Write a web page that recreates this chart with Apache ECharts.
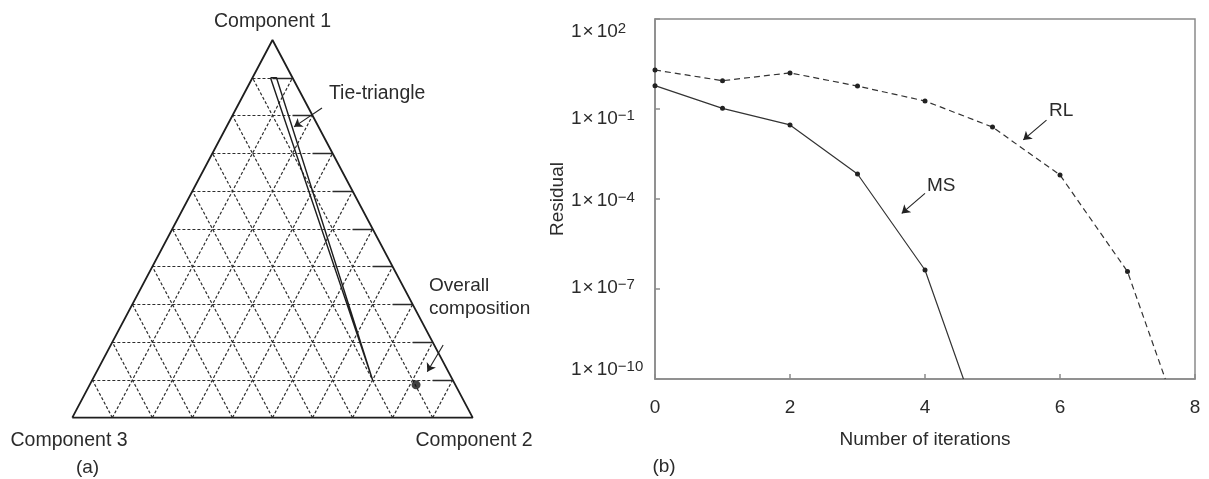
<!DOCTYPE html>
<html><head><meta charset="utf-8">
<script src="https://cdn.jsdelivr.net/npm/echarts@6/dist/echarts.min.js"></script>
<style>html,body{margin:0;padding:0;background:#fff}#c{width:1209px;height:479px}</style>
</head><body><div id="c"></div>
<script>
// ---------- Panel (b): residual vs number of iterations ----------
const iterations = [0, 1, 2, 3, 4, 5, 6, 7];
const residualRL = [2.0, 0.88, 1.6, 0.58, 0.185, 0.025, 6.3e-4, 3.8e-7];
const residualMS = [0.6, 0.105, 0.0295, 6.8e-4, 4.3e-7];
const tailRL = [7.56, 1e-10];   // where the RL curve leaves the plot
const tailMS = [4.57, 1e-10];   // where the MS curve leaves the plot
const xTickValues = [0, 2, 4, 6, 8];
const yTickExponents = [2, -1, -4, -7, -10];
const arrowRL = [[5.80, Math.pow(10, -1.37)], [5.456, Math.pow(10, -2.03)]];
const arrowMS = [[4.0, Math.pow(10, -3.81)], [3.655, Math.pow(10, -4.48)]];

// ---------- Panel (a): ternary diagram, compositions [c1, c2] (c3 = 1-c1-c2) ----------
const gridFractions = [0.1, 0.2, 0.3, 0.4, 0.5, 0.6, 0.7, 0.8, 0.9];
const tieTriangle = [[0.9, 0.045], [0.9, 0.06], [0.1, 0.70]];
const overallComposition = [0.087, 0.815];
const arrowTie = [[0.820, 0.2136], [0.770, 0.1689]];
const arrowOverall = [[0.1925, 0.830], [0.1218, 0.8257]];
const vertexLabels = ['Component 1', 'Component 2', 'Component 3'];

// ternary (c1,c2) -> plot coordinates in unit grid
function tern(c1, c2) { return [c2 + c1 / 2, c1]; }

const FONT = 'Liberation Sans, Arial, Helvetica, sans-serif';
const TXT = '#2b2b2b';

// grid line segments
const dashedSegs = [], solidSegs = [];
gridFractions.forEach(f => {
  // c1 = f (horizontal)
  const a = tern(f, 0), b = tern(f, 1 - f);
  const mid = [b[0] - 0.05, f];
  dashedSegs.push({coords: [a, mid]});
  solidSegs.push({coords: [mid, b]});
  // c2 = f
  dashedSegs.push({coords: [tern(0, f), tern(1 - f, f)]});
  // c3 = f
  dashedSegs.push({coords: [tern(0, 1 - f), tern(1 - f, 0)]});
});

const outline = [tern(0, 0), tern(0, 1), tern(1, 0), tern(0, 0)];
const tiePoly = tieTriangle.concat([tieTriangle[0]]).map(p => tern(p[0], p[1]));

// y label fine offsets (layout only)
const yLabelShift = {'2': 13, '-1': 9.5, '-4': 2, '-7': -1.5, '-10': -9.5};
const rich = {};
function pad(d) { return d >= 0 ? [2 * d, 0, 0, 0] : [0, 0, -2 * d, 0]; }
yTickExponents.forEach((e, i) => {
  const d = yLabelShift[String(e)];
  const pm = pad(d), ps = pad(d - 3);
  rich['m' + i] = {fontSize: 19, fontFamily: FONT, color: TXT, padding: pm, verticalAlign: 'middle'};
  rich['x' + i] = {fontSize: 19, fontFamily: FONT, color: TXT, padding: [pm[0], 3, pm[2], 1], verticalAlign: 'middle'};
  rich['s' + i] = {fontSize: 15, fontFamily: FONT, color: TXT, padding: ps, verticalAlign: 'middle'};
});

const chart = echarts.init(document.getElementById('c'), null, {renderer: 'canvas'});
const GRAY = '#8a8a8a';
chart.setOption({
  animation: false,
  backgroundColor: '#fff',
  textStyle: {fontFamily: FONT},
  grid: [
    {left: 72.3, top: 40, width: 400.4, height: 377.7, show: false, outerBoundsMode: 'none'},
    {left: 655, top: 19, width: 540, height: 360, show: true, borderColor: GRAY, borderWidth: 1.5, backgroundColor: 'transparent', outerBoundsMode: 'none'}
  ],
  xAxis: [
    {gridIndex: 0, type: 'value', min: 0, max: 1, show: false},
    {gridIndex: 1, type: 'value', min: 0, max: 8, interval: 2,
     axisLine: {show: true, onZero: false, lineStyle: {color: GRAY, width: 1.5}},
     axisTick: {show: true, inside: true, length: 5, lineStyle: {color: GRAY, width: 1.5}},
     axisLabel: {fontSize: 19, color: TXT, margin: 19, fontFamily: FONT,
                 formatter: v => xTickValues.indexOf(v) >= 0 ? String(v) : ''},
     splitLine: {show: false},
     name: 'Number of iterations', nameLocation: 'middle', nameGap: 51,
     nameTextStyle: {fontSize: 19, color: TXT, fontFamily: FONT}}
  ],
  yAxis: [
    {gridIndex: 0, type: 'value', min: 0, max: 1, show: false},
    {gridIndex: 1, type: 'value', min: -10, max: 2, interval: 3,
     axisLine: {show: true, onZero: false, lineStyle: {color: GRAY, width: 1.5}},
     axisTick: {show: true, inside: true, length: 5, lineStyle: {color: GRAY, width: 1.5}},
     axisLabel: {align: 'left', margin: 84, rich: rich,
       formatter: v => {
         const e = Math.round(v);
         const i = yTickExponents.indexOf(e);
         if (i < 0) return '';
         const es = e < 0 ? '\u2212' + (-e) : String(e);
         return '{m' + i + '|1}{x' + i + '|\u00d7}{m' + i + '|10}{s' + i + '|' + es + '}';
       }},
     splitLine: {show: false},
     name: 'Residual', nameLocation: 'middle', nameGap: 88,
     nameTextStyle: {fontSize: 19, color: TXT, fontFamily: FONT}}
  ],
  series: [
    // ---- ternary ----
    {type: 'lines', coordinateSystem: 'cartesian2d', xAxisIndex: 0, yAxisIndex: 0, silent: true,
     data: dashedSegs, lineStyle: {color: '#2e2e2e', width: 1.2, type: [3, 2], opacity: 1}},
    {type: 'lines', coordinateSystem: 'cartesian2d', xAxisIndex: 0, yAxisIndex: 0, silent: true,
     data: solidSegs, lineStyle: {color: '#2a2a2a', width: 1.4, opacity: 1}},
    {type: 'line', xAxisIndex: 0, yAxisIndex: 0, data: outline, symbol: 'none', clip: false,
     lineStyle: {color: '#1e1e1e', width: 1.8}},
    {type: 'line', xAxisIndex: 0, yAxisIndex: 0, data: tiePoly, symbol: 'none', clip: false,
     lineStyle: {color: '#1e1e1e', width: 1.4}},
    {type: 'scatter', xAxisIndex: 0, yAxisIndex: 0, data: [tern(overallComposition[0], overallComposition[1])],
     symbol: 'circle', symbolSize: 9, itemStyle: {color: '#111'}},
    {type: 'lines', coordinateSystem: 'cartesian2d', xAxisIndex: 0, yAxisIndex: 0, silent: true,
     symbol: ['none', 'arrow'], symbolSize: 8,
     data: [arrowTie, arrowOverall].map(a => ({coords: a.map(p => tern(p[0], p[1]))})),
     lineStyle: {color: '#222', width: 1.1, opacity: 1}},
    // ---- residual chart ----
    {type: 'line', name: 'RL', xAxisIndex: 1, yAxisIndex: 1,
     data: iterations.map((x, i) => [x, Math.log10(residualRL[i])])
       .concat([{value: [tailRL[0], Math.log10(tailRL[1])], symbol: 'none'}]),
     symbol: 'circle', symbolSize: 5, itemStyle: {color: '#222'},
     lineStyle: {color: '#333', width: 1.2, type: [6, 4]}},
    {type: 'line', name: 'MS', xAxisIndex: 1, yAxisIndex: 1,
     data: iterations.slice(0, residualMS.length).map((x, i) => [x, Math.log10(residualMS[i])])
       .concat([{value: [tailMS[0], Math.log10(tailMS[1])], symbol: 'none'}]),
     symbol: 'circle', symbolSize: 5, itemStyle: {color: '#222'},
     lineStyle: {color: '#333', width: 1.2}},
    {type: 'lines', coordinateSystem: 'cartesian2d', xAxisIndex: 1, yAxisIndex: 1, silent: true,
     symbol: ['none', 'arrow'], symbolSize: 8,
     data: [arrowRL, arrowMS].map(a => ({coords: a.map(p => [p[0], Math.log10(p[1])])})),
     lineStyle: {color: '#222', width: 1.1, opacity: 1}}
  ],
  graphic: [
    {type: 'text', x: 272.5, y: 21.7, style: {text: vertexLabels[0], fontSize: 19.5, fontFamily: FONT, fill: TXT, align: 'center', verticalAlign: 'middle', textAlign: 'center', textVerticalAlign: 'middle'}},
    {type: 'text', x: 10.5, y: 440.5, style: {text: vertexLabels[2], fontSize: 19.5, fontFamily: FONT, fill: TXT, align: 'left', verticalAlign: 'middle', textAlign: 'left', textVerticalAlign: 'middle'}},
    {type: 'text', x: 415.5, y: 440.5, style: {text: vertexLabels[1], fontSize: 19.5, fontFamily: FONT, fill: TXT, align: 'left', verticalAlign: 'middle', textAlign: 'left', textVerticalAlign: 'middle'}},
    {type: 'text', x: 87.5, y: 468, style: {text: '(a)', fontSize: 19, fontFamily: FONT, fill: TXT, align: 'center', verticalAlign: 'middle', textAlign: 'center', textVerticalAlign: 'middle'}},
    {type: 'text', x: 329, y: 94, style: {text: 'Tie-triangle', fontSize: 19.4, fontFamily: FONT, fill: TXT, align: 'left', verticalAlign: 'middle', textAlign: 'left', textVerticalAlign: 'middle'}},
    {type: 'text', x: 429, y: 286, style: {text: 'Overall', fontSize: 19, fontFamily: FONT, fill: TXT, align: 'left', verticalAlign: 'middle', textAlign: 'left', textVerticalAlign: 'middle'}},
    {type: 'text', x: 429, y: 309, style: {text: 'composition', fontSize: 19, fontFamily: FONT, fill: TXT, align: 'left', verticalAlign: 'middle', textAlign: 'left', textVerticalAlign: 'middle'}},
    {type: 'text', x: 1049, y: 110.5, style: {text: 'RL', fontSize: 19, fontFamily: FONT, fill: TXT, align: 'left', verticalAlign: 'middle', textAlign: 'left', textVerticalAlign: 'middle'}},
    {type: 'text', x: 927, y: 185.5, style: {text: 'MS', fontSize: 19, fontFamily: FONT, fill: TXT, align: 'left', verticalAlign: 'middle', textAlign: 'left', textVerticalAlign: 'middle'}},
    {type: 'text', x: 664, y: 467, style: {text: '(b)', fontSize: 19, fontFamily: FONT, fill: TXT, align: 'center', verticalAlign: 'middle', textAlign: 'center', textVerticalAlign: 'middle'}}
  ]
});
</script>
</body></html>
